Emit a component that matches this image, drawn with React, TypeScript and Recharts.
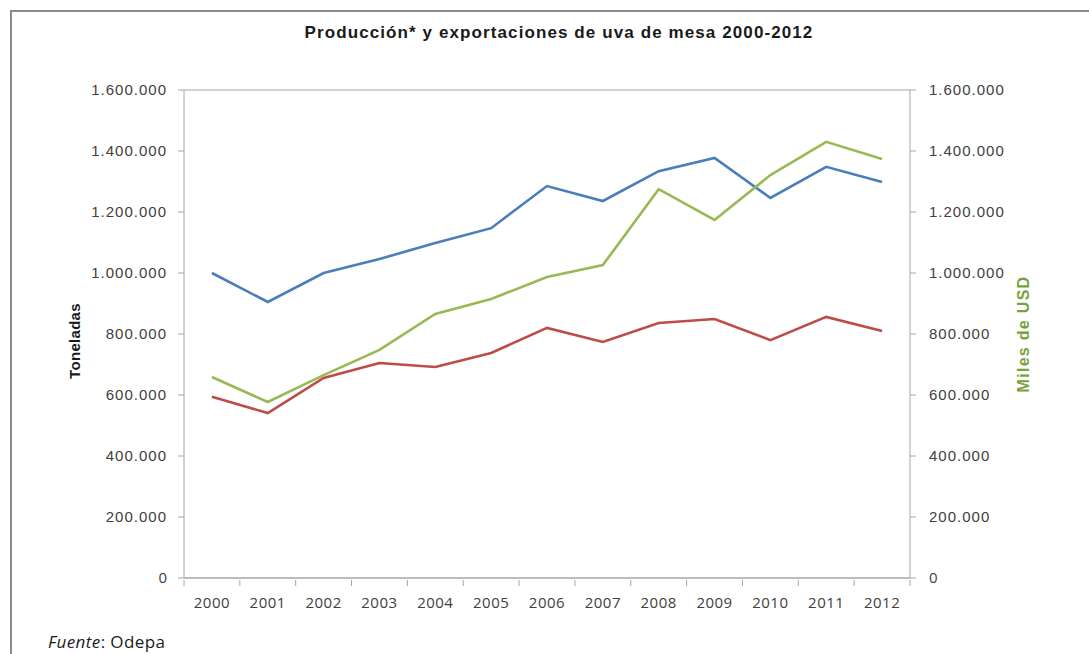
import { LineChart, Line, XAxis, YAxis, CartesianGrid } from 'recharts'

// Uva de mesa 2000-2012 (Odepa)
const years = ['2000', '2001', '2002', '2003', '2004', '2005', '2006', '2007', '2008', '2009', '2010', '2011', '2012']
const produccion = [1000000, 905000, 1000000, 1046000, 1098000, 1147000, 1285000, 1236000, 1334000, 1377000, 1246000, 1348000, 1298000]
const exportTon = [594000, 541000, 656000, 705000, 692000, 738000, 820000, 774000, 836000, 849000, 780000, 856000, 810000]
const exportUsd = [659000, 577000, 665000, 748000, 866000, 915000, 987000, 1026000, 1275000, 1174000, 1321000, 1430000, 1374000]
const yTicks = [0, 200000, 400000, 600000, 800000, 1000000, 1200000, 1400000, 1600000]

const data = years.map((y, i) => ({
  year: y,
  produccion: produccion[i],
  exportTon: exportTon[i],
  exportUsd: exportUsd[i],
}))

const W = 1089
const H = 654
const PLOT_LEFT = 184
const PLOT_RIGHT = 910
const BAND = (PLOT_RIGHT - PLOT_LEFT) / years.length

const fmt = (v: number) => String(v).replace(/\B(?=(\d{3})+(?!\d))/g, '.')

const axisFont = '"Liberation Sans", Arial, sans-serif'
const calFont = '"Open Sans", "Noto Sans", sans-serif'

// category ticks sit between years, like the spreadsheet original
function YearTick({ x, y, payload, index }: { x?: number; y?: number; payload?: { value: string }; index?: number }) {
  if (x == null || y == null || !payload) return <g />
  const last = index === years.length - 1
  return (
    <g>
      <line x1={x - BAND / 2} x2={x - BAND / 2} y1={y - 6} y2={y} stroke="#a6a6a6" />
      {last && <line x1={x + BAND / 2} x2={x + BAND / 2} y1={y - 6} y2={y} stroke="#a6a6a6" />}
      <text x={x} y={y + 22} textAnchor="middle" fill="#404040" fontSize={15} fontFamily={calFont} letterSpacing={0.5}>
        {payload.value}
      </text>
    </g>
  )
}

function ValueTick({ x, y, payload, anchor }: { x?: number; y?: number; payload?: { value: number }; anchor: 'start' | 'end' }) {
  if (x == null || y == null || !payload) return <g />
  const zero = payload.value === 0
  return (
    <text
      x={x}
      y={y + 5}
      textAnchor={anchor}
      fill="#404040"
      fontSize={15}
      fontFamily={zero ? calFont : axisFont}
      letterSpacing={zero ? 0 : 1}
    >
      {fmt(payload.value)}
    </text>
  )
}

export default function App() {
  return (
    <div style={{ position: 'absolute', left: 0, top: 0, width: W, height: H, background: '#fff', overflow: 'hidden' }}>
      {/* frame */}
      <div style={{ position: 'absolute', left: 10, top: 10, width: W + 20, height: H + 20, border: '2px solid #8c8c8c', boxSizing: 'border-box' }} />
      <div
        style={{
          position: 'absolute', left: 0, width: 1118, top: 23, textAlign: 'center',
          fontFamily: axisFont, fontWeight: 700, fontSize: 17, letterSpacing: 1.1, color: '#1a1a1a',
        }}
      >
        Producción* y exportaciones de uva de mesa 2000-2012
      </div>
      <div
        style={{
          position: 'absolute', left: 74, top: 341, transform: 'translate(-50%, -50%) rotate(-90deg)',
          fontFamily: axisFont, fontWeight: 700, fontSize: 15, letterSpacing: 0.3, color: '#1a1a1a', whiteSpace: 'nowrap',
        }}
      >
        Toneladas
      </div>
      <div
        style={{
          position: 'absolute', left: 1024, top: 334, transform: 'translate(-50%, -50%) rotate(-90deg)',
          fontFamily: axisFont, fontWeight: 700, fontSize: 16, letterSpacing: 1.3, color: '#77a33a', whiteSpace: 'nowrap',
        }}
      >
        Miles de USD
      </div>
      <div style={{ position: 'absolute', left: 48, top: 630, fontFamily: calFont, fontSize: 17, letterSpacing: 0.4, color: '#1a1a1a' }}>
        <i>Fuente</i>: Odepa
      </div>
      <div style={{ position: 'absolute', left: 0, top: 0 }}>
        <LineChart width={W} height={H} data={data} margin={{ top: 90, right: 79, bottom: 46, left: 84 }}>
          <CartesianGrid vertical={false} stroke="#a6a6a6" strokeWidth={1.2} />
          <XAxis
            dataKey="year"
            interval={0}
            tickLine={false}
            axisLine={{ stroke: '#a6a6a6' }}
            height={30}
            padding={{ left: BAND / 2, right: BAND / 2 }}
            tick={<YearTick />}
          />
          <YAxis
            yAxisId="left"
            domain={[0, 1600000]}
            ticks={yTicks}
            width={100}
            tickSize={6}
            tickMargin={11}
            axisLine={{ stroke: '#a6a6a6' }}
            tickLine={{ stroke: '#a6a6a6' }}
            tick={<ValueTick anchor="end" />}
          />
          <YAxis
            yAxisId="right"
            orientation="right"
            domain={[0, 1600000]}
            ticks={yTicks}
            width={100}
            tickSize={6}
            tickMargin={13}
            axisLine={{ stroke: '#a6a6a6' }}
            tickLine={{ stroke: '#a6a6a6' }}
            tick={<ValueTick anchor="start" />}
          />
          <Line yAxisId="left" dataKey="produccion" stroke="#4a7ebb" strokeWidth={2.6} dot={false} isAnimationActive={false} />
          <Line yAxisId="left" dataKey="exportTon" stroke="#be4b48" strokeWidth={2.6} dot={false} isAnimationActive={false} />
          <Line yAxisId="right" dataKey="exportUsd" stroke="#98b954" strokeWidth={2.6} dot={false} isAnimationActive={false} />
        </LineChart>
      </div>
    </div>
  )
}
